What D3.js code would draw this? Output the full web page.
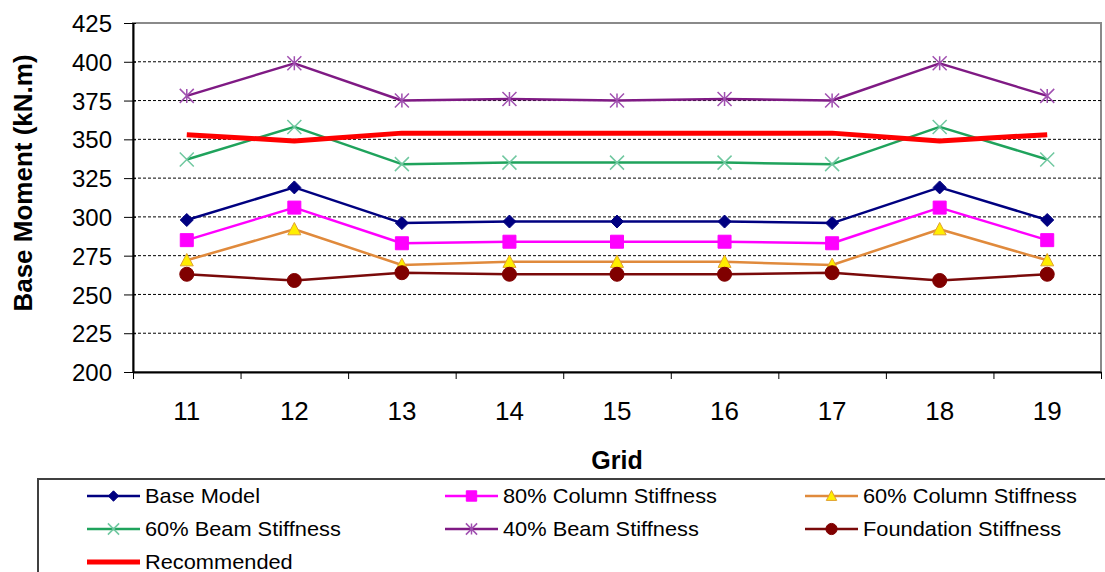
<!DOCTYPE html>
<html>
<head>
<meta charset="utf-8">
<script src="https://cdn.jsdelivr.net/npm/d3@7"></script>
<style>
body { margin: 0; background: #fff; }
text { font-family: "Liberation Sans", Arial, sans-serif; }
</style>
</head>
<body>
<div id="chart"></div>
<script>
var grids = ["11", "12", "13", "14", "15", "16", "17", "18", "19"];
var yTicks = [200, 225, 250, 275, 300, 325, 350, 375, 400, 425];

var baseModel   = [298, 319, 296, 297, 297, 297, 296, 319, 298];
var col80       = [285, 306, 283, 284, 284, 284, 283, 306, 285];
var col60       = [272, 292, 269, 271, 271, 271, 269, 292, 272];
var beam60      = [337, 358, 334, 335, 335, 335, 334, 358, 337];
var beam40      = [378, 399, 375, 376, 375, 376, 375, 399, 378];
var foundation  = [263, 259, 264, 263, 263, 263, 264, 259, 263];
var recommended = [353, 349, 354, 354, 354, 354, 354, 349, 353];

var series = [
  {name: "Base Model", values: baseModel, color: "#000080", mark: "diamond", fill: "#000080", mstroke: "#000080"},
  {name: "80% Column Stiffness", values: col80, color: "#FF00FF", mark: "square", fill: "#FF00FF", mstroke: "#FF00FF"},
  {name: "60% Column Stiffness", values: col60, color: "#E08A3C", mark: "triangle", fill: "#FFEE00", mstroke: "#E0A030"},
  {name: "60% Beam Stiffness", values: beam60, color: "#1FA35C", mark: "x", fill: "none", mstroke: "#70C8A0"},
  {name: "40% Beam Stiffness", values: beam40, color: "#7F1A84", mark: "star", fill: "none", mstroke: "#A050B0"},
  {name: "Foundation Stiffness", values: foundation, color: "#7A0A0A", mark: "circle", fill: "#800000", mstroke: "#800000"},
  {name: "Recommended", values: recommended, color: "#FF0000", mark: "none", width: 5}
];

var W = 1105, H = 572;
var plot = {left: 133, right: 1101, top: 23, bottom: 372};

var svg = d3.select("#chart").append("svg")
  .attr("width", W)
  .attr("height", H);

var x = d3.scaleBand().domain(grids).range([plot.left, plot.right]).padding(0);
var xb = d3.scaleLinear().domain([0, grids.length]).range([plot.left, plot.right]);
var y = d3.scaleLinear().domain([200, 425]).range([plot.bottom, plot.top]);

// plot border (grey)
svg.append("rect")
  .attr("x", plot.left).attr("y", plot.top)
  .attr("width", plot.right - plot.left)
  .attr("height", plot.bottom - plot.top)
  .attr("fill", "none")
  .attr("stroke", "#8a8a8a")
  .attr("stroke-width", 2);

// gridlines
svg.selectAll(".grid")
  .data(yTicks.filter(function(d) { return d > 200 && d < 425; }))
  .enter().append("line")
  .attr("class", "grid")
  .attr("x1", plot.left).attr("x2", plot.right)
  .attr("y1", function(d) { return y(d); })
  .attr("y2", function(d) { return y(d); })
  .attr("stroke", "#000")
  .attr("stroke-width", 1)
  .attr("stroke-dasharray", "3,2");

// y axis
var yAxis = d3.axisLeft(y).tickValues(yTicks).tickSizeInner(9).tickSizeOuter(0).tickPadding(12);
var gy = svg.append("g")
  .attr("transform", "translate(" + plot.left + ",0)")
  .call(yAxis);
gy.select(".domain").attr("stroke", "#000").attr("stroke-width", 2);
gy.selectAll(".tick line").attr("stroke", "#000").attr("x2", -9).attr("x1", 3);
gy.selectAll(".tick text")
  .attr("fill", "#000")
  .style("font-size", "24px")
  .attr("dy", "0.36em");

// x axis: ticks at category boundaries, labels at centres
var gxTicks = svg.append("g")
  .attr("transform", "translate(0," + plot.bottom + ")")
  .call(d3.axisBottom(xb).ticks(grids.length).tickFormat("").tickSizeInner(7).tickSizeOuter(0));
gxTicks.select(".domain").attr("stroke", "#000").attr("stroke-width", 2);
gxTicks.selectAll(".tick line").attr("stroke", "#000");

var gx = svg.append("g")
  .attr("transform", "translate(0," + plot.bottom + ")")
  .call(d3.axisBottom(x).tickSize(0).tickPadding(0));
gx.select(".domain").remove();
gx.selectAll(".tick text")
  .attr("fill", "#000")
  .attr("y", 48)
  .attr("dy", 0)
  .style("font-size", "26px");

// axis titles
svg.append("text")
  .attr("x", (plot.left + plot.right) / 2)
  .attr("y", 469)
  .attr("text-anchor", "middle")
  .style("font-size", "25px")
  .style("font-weight", "bold")
  .text("Grid");

svg.append("text")
  .attr("transform", "translate(32,183) rotate(-90)")
  .attr("text-anchor", "middle")
  .style("font-size", "26px")
  .style("font-weight", "bold")
  .text("Base Moment (kN.m)");

// marker shapes
function markPath(type, s) {
  var h = s / 2;
  if (type == "diamond") return "M0," + (-h) + "L" + h + ",0L0," + h + "L" + (-h) + ",0Z";
  if (type == "square") return "M" + (-h) + "," + (-h) + "h" + s + "v" + s + "h" + (-s) + "Z";
  if (type == "triangle") return "M0," + (-h * 1.05) + "L" + h + "," + (h * 0.85) + "L" + (-h) + "," + (h * 0.85) + "Z";
  if (type == "x") return "M" + (-h) + "," + (-h) + "L" + h + "," + h + "M" + (-h) + "," + h + "L" + h + "," + (-h);
  if (type == "star") return "M" + (-h) + "," + (-h) + "L" + h + "," + h + "M" + (-h) + "," + h + "L" + h + "," + (-h) + "M0," + (-h) + "L0," + h;
  if (type == "circle") return d3.symbol(d3.symbolCircle, Math.PI * h * h)();
  return "";
}
var markSize = {diamond: 13, square: 13, triangle: 13, x: 14, star: 14, circle: 14};

var line = d3.line()
  .x(function(d, i) { return x(grids[i]) + x.bandwidth() / 2; })
  .y(function(d) { return y(d); });

series.forEach(function(s) {
  var g = svg.append("g").attr("class", "series");
  g.append("path")
    .datum(s.values)
    .attr("d", line)
    .attr("fill", "none")
    .attr("stroke", s.color)
    .attr("stroke-width", s.width || 2.5)
    .attr("stroke-linejoin", "round");
  if (s.mark != "none") {
    g.selectAll(".mk")
      .data(s.values)
      .enter().append("path")
      .attr("class", "mk")
      .attr("transform", function(d, i) { return "translate(" + (x(grids[i]) + x.bandwidth() / 2) + "," + y(d) + ")"; })
      .attr("d", markPath(s.mark, markSize[s.mark]))
      .attr("fill", s.fill)
      .attr("stroke", s.mstroke)
      .attr("stroke-width", (s.mark == "x" || s.mark == "star") ? 1.5 : 1);
  }
});

// legend
svg.append("rect")
  .attr("x", 38).attr("y", 479)
  .attr("width", 1100).attr("height", 120)
  .attr("fill", "#fff")
  .attr("stroke", "#404040")
  .attr("stroke-width", 2);

var legCols = [87, 445, 805];
var legRows = [496, 529, 562];
var legend = svg.selectAll(".legend")
  .data(series)
  .enter().append("g")
  .attr("class", "legend")
  .attr("transform", function(d, i) { return "translate(" + legCols[i % 3] + "," + legRows[Math.floor(i / 3)] + ")"; });

legend.append("line")
  .attr("x1", 0).attr("x2", 53)
  .attr("stroke", function(d) { return d.color; })
  .attr("stroke-width", function(d) { return d.width || 2.5; });

legend.filter(function(d) { return d.mark != "none"; })
  .append("path")
  .attr("transform", "translate(26.5,0)")
  .attr("d", function(d) { return markPath(d.mark, markSize[d.mark] * 0.8); })
  .attr("fill", function(d) { return d.fill; })
  .attr("stroke", function(d) { return d.mstroke; })
  .attr("stroke-width", function(d) { return (d.mark == "x" || d.mark == "star") ? 1.5 : 1; });

legend.append("text")
  .attr("transform", "translate(58,0) scale(1.09,1)")
  .attr("dy", "0.36em")
  .style("font-size", "20px")
  .attr("fill", "#000")
  .text(function(d) { return d.name; });
</script>
</body>
</html>
